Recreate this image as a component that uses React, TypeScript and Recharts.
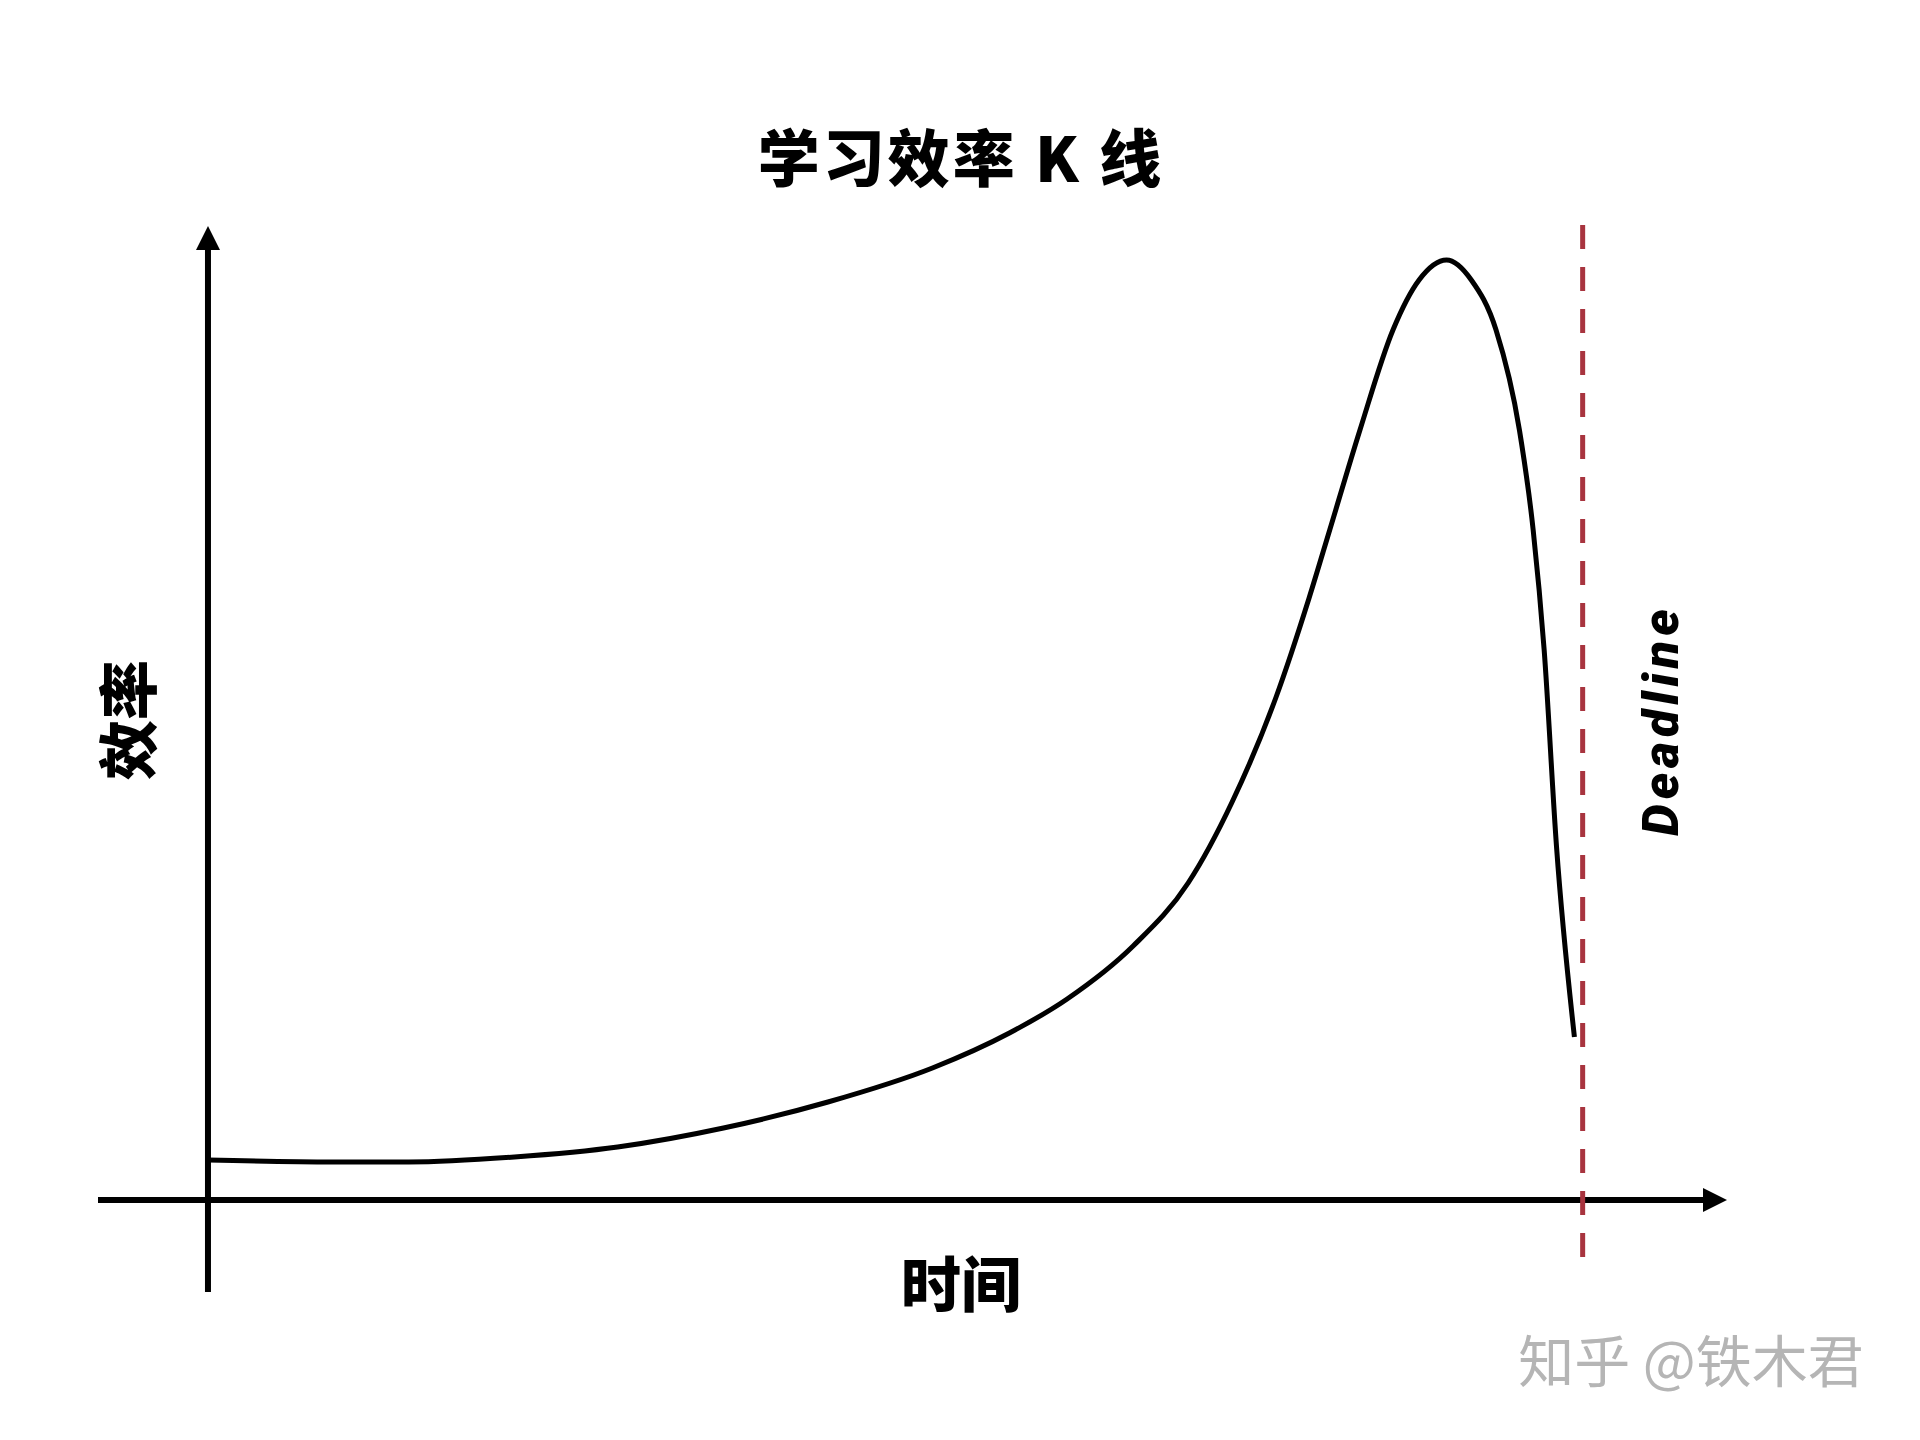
import { LineChart, Line, XAxis, YAxis, ReferenceLine } from "recharts";

// time axis: 0 = start, 100 = deadline
const timeValues = [
  0, 9.1, 14.6, 22.3, 29.8, 37.5, 45.1, 52.7, 58.3, 62.5, 67.3, 71.3, 74.5,
  77.7, 80.1, 81.6, 83.8, 86.2, 88.1, 90.1, 91.9, 93.7, 95.4, 96.4, 97.2, 98.1,
  99.4,
];
const efficiencyValues = [
  4.0, 3.8, 3.8, 4.3, 5.3, 7.2, 9.8, 13.2, 16.7, 20.1, 25.4, 31.7, 39.8, 50.3,
  60.2, 67.0, 77.0, 87.0, 92.0, 94.0, 92.0, 87.0, 77.0, 67.0, 55.0, 35.3, 16.3,
];
const deadlineTime = 100;

const titleText = "学习效率 K 线";
const yLabelText = "效率";
const xLabelText = "时间";
const deadlineText = "Deadline";
const watermarkText = "知乎 @铁木君";

const data = timeValues.map((t, i) => ({ t, e: efficiencyValues[i] }));

const ArrowAxis = (props: any) => {
  const { x1, y1, x2, y2 } = props;
  const dx = x2 - x1;
  const dy = y2 - y1;
  const len = Math.sqrt(dx * dx + dy * dy) || 1;
  const ux = dx / len;
  const uy = dy / len;
  const head = 24;
  const half = 12;
  const bx = x2 - ux * head;
  const by = y2 - uy * head;
  return (
    <g>
      <line x1={x1} y1={y1} x2={bx + ux * 2} y2={by + uy * 2} stroke="#000" strokeWidth={6} />
      <polygon
        points={`${x2},${y2} ${bx - uy * half},${by + ux * half} ${bx + uy * half},${by - ux * half}`}
        fill="#000"
      />
    </g>
  );
};

const textBase: React.CSSProperties = {
  position: "absolute",
  transform: "translate(-50%, -50%)",
  whiteSpace: "pre",
  lineHeight: 1,
  color: "#000",
};

export default function App() {
  return (
    <div
      style={{
        position: "absolute",
        left: 0,
        top: 0,
        width: 1920,
        height: 1440,
        background: "#fff",
        overflow: "hidden",
      }}
    >
      <LineChart
        width={1920}
        height={1440}
        data={data}
        margin={{ top: 227, right: 193, bottom: 148, left: 98 }}
      >
        <XAxis type="number" dataKey="t" domain={[-8, 110.5]} hide />
        <YAxis type="number" domain={[-9.2, 97.3]} hide />
        <ReferenceLine
          segment={[
            { x: -8, y: 0 },
            { x: 110.5, y: 0 },
          ]}
          ifOverflow="visible"
          shape={ArrowAxis}
        />
        <ReferenceLine
          segment={[
            { x: 0, y: -9.2 },
            { x: 0, y: 97.4 },
          ]}
          ifOverflow="visible"
          shape={ArrowAxis}
        />
        <ReferenceLine
          segment={[
            { x: deadlineTime, y: -5.7 },
            { x: deadlineTime, y: 98 },
          ]}
          ifOverflow="visible"
          stroke="#a8343f"
          strokeWidth={5}
          strokeDasharray="24 18"
        />
        <Line
          type="monotone"
          dataKey="e"
          stroke="#000"
          strokeWidth={5}
          dot={false}
          isAnimationActive={false}
        />
      </LineChart>

      <div
        style={{
          ...textBase,
          left: 961,
          top: 155,
          fontFamily: "'Noto Sans CJK SC'",
          fontWeight: 900,
          fontSize: 62,
          letterSpacing: 3,
        }}
      >
        {titleText}
      </div>
      <div
        style={{
          ...textBase,
          left: 125,
          top: 720,
          transform: "translate(-50%, -50%) rotate(-90deg)",
          fontFamily: "'Noto Sans CJK SC'",
          fontWeight: 900,
          fontSize: 60,
        }}
      >
        {yLabelText}
      </div>
      <div
        style={{
          ...textBase,
          left: 961,
          top: 1281,
          fontFamily: "'Noto Sans CJK SC'",
          fontWeight: 900,
          fontSize: 60,
        }}
      >
        {xLabelText}
      </div>
      <div
        style={{
          ...textBase,
          left: 1661,
          top: 720,
          transform: "translate(-50%, -50%) rotate(-90deg)",
          fontFamily: "Roboto",
          fontWeight: 900,
          fontStyle: "italic",
          fontSize: 50,
          letterSpacing: 5,
        }}
      >
        {deadlineText}
      </div>
      <div
        style={{
          ...textBase,
          left: 1691,
          top: 1358,
          fontFamily: "'Noto Sans CJK SC'",
          fontWeight: 400,
          fontSize: 56,
          color: "#b5b5b5",
        }}
      >
        {watermarkText}
      </div>
    </div>
  );
}
